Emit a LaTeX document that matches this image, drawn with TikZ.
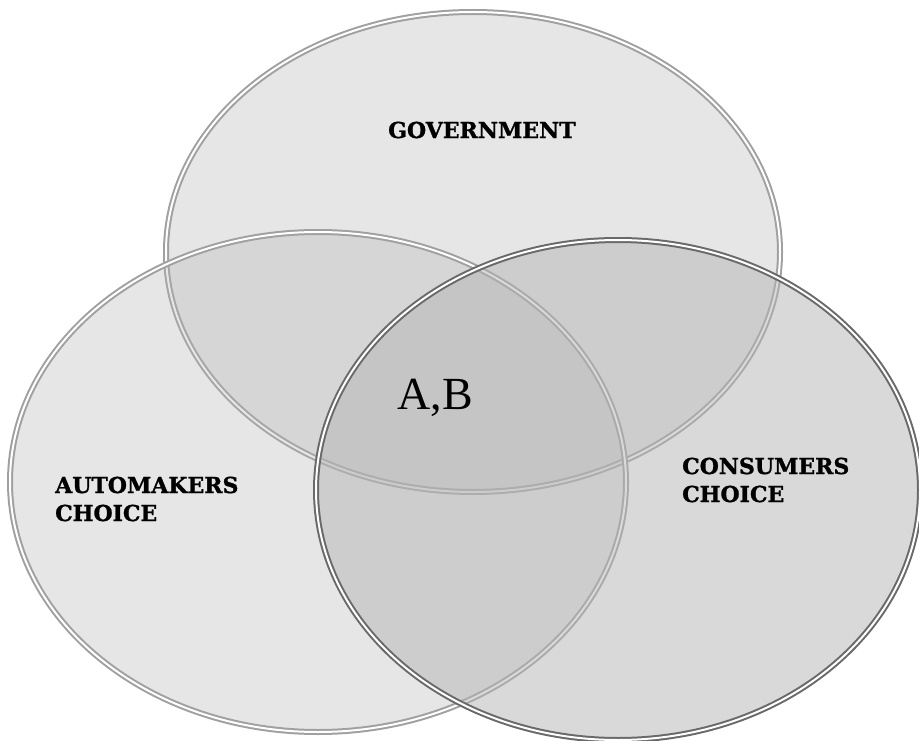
\documentclass[tikz,border=0pt]{standalone}
\usepackage{fontspec}
\setmainfont{Liberation Serif}
\newfontfamily\setfont[BoldFeatures={FakeBold=1.2}]{DejaVu Serif}
\usetikzlibrary{shapes.geometric}
\definecolor{vennFill}{RGB}{180,180,180}
\definecolor{rimLight}{RGB}{160,160,160}
\definecolor{rimDark} {RGB}{105,105,105}

\begin{document}
\begin{tikzpicture}[x=1pt,y=-1pt,
        set/.style={ellipse,inner sep=0pt,fill=vennFill,fill opacity=0.33,
                    draw=rimLight,line width=2pt,double=white,double distance=2pt},
        lbl/.style={font=\setfont\bfseries\fontsize{22}{28}\selectfont,
                    align=left,anchor=west,inner sep=0pt}]

        \useasboundingbox (0,0) rectangle (919,741);

        % the three sets
        \node[set,minimum width=614pt,minimum height=480pt] (gov)  at (473,252) {};
        \node[set,minimum width=616pt,minimum height=500pt] (auto) at (318,482) {};
        \node[set,fill opacity=0.5,draw=rimDark,
              minimum width=604pt,minimum height=500pt]      (cons) at (618,490) {};

        % labels
        \node[lbl] (govtxt)  at (388,130) {GOVERNMENT};
        \node[lbl] (autotxt) at (55,499)  {AUTOMAKERS\\CHOICE};
        \node[lbl] (constxt) at (682,480) {CONSUMERS\\CHOICE};
        \node[font=\fontsize{46}{54}\selectfont,inner sep=0pt] (core) at (435,398) {A,B};
\end{tikzpicture}
\end{document}
